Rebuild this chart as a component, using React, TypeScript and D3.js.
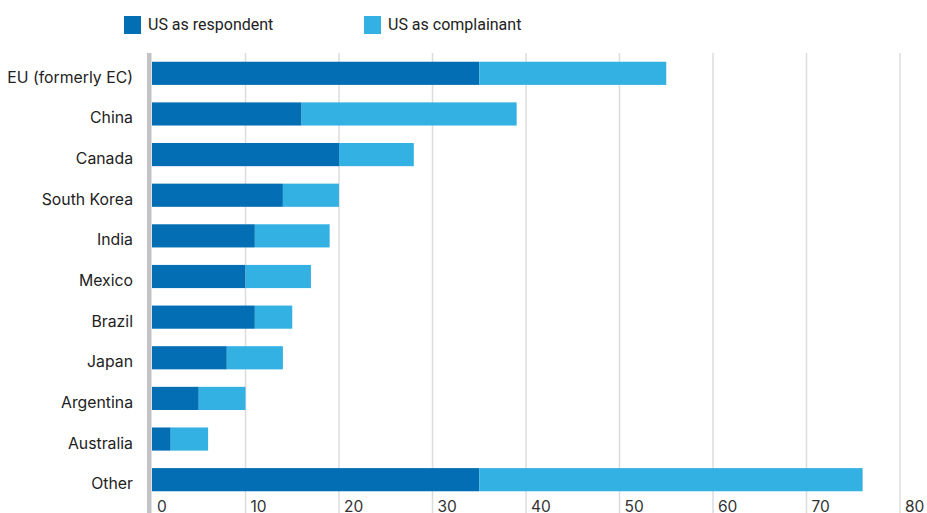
import React from "react";
import * as d3 from "d3";

const categories = ["EU (formerly EC)", "China", "Canada", "South Korea", "India", "Mexico", "Brazil", "Japan", "Argentina", "Australia", "Other"];
const respondent = [35, 16, 20, 14, 11, 10, 11, 8, 5, 2, 35];
const complainant = [20, 23, 8, 6, 8, 7, 4, 6, 5, 4, 41];
const xTicks = [0, 10, 20, 30, 40, 50, 60, 70, 80];
const seriesNames = ["US as respondent", "US as complainant"];

const W = 927;
const H = 513;
const DARK = "#036eb3";
const LIGHT = "#34b1e3";
const FONT = "Inter, 'Noto Sans', sans-serif";

export default function App() {
  const x = d3.scaleLinear().domain([0, 80]).range([152, 900]);
  const y = d3.scaleBand<string>().domain(categories).range([53, 500]).paddingInner(0.43).paddingOuter(0.215);
  const bw = y.bandwidth();

  return (
    <svg width={W} height={H} style={{ position: "absolute", left: 0, top: 0, background: "#fff" }}>
      {xTicks.filter((t) => t > 0).map((t) => (
        <line key={"g" + t} x1={x(t)} x2={x(t)} y1={53} y2={H} stroke="#dcdcdf" strokeWidth={1.5} />
      ))}
      <rect x={147} y={53} width={4.5} height={H - 53} fill="#c2c2c7" />
      {xTicks.map((t) => (
        <text key={"t" + t} x={x(t) + 5} y={H - 1} fontFamily={FONT} fontSize={15.5} fill="#333">
          {t}
        </text>
      ))}
      {categories.map((c, i) => (
        <g key={c}>
          <rect x={x(0)} y={y(c)} width={x(respondent[i]) - x(0)} height={bw} fill={DARK} />
          <rect x={x(respondent[i])} y={y(c)} width={x(respondent[i] + complainant[i]) - x(respondent[i])} height={bw} fill={LIGHT} />
          <text x={133} y={(y(c) as number) + bw / 2 + 4} dy="0.35em" textAnchor="end" fontFamily={FONT} fontSize={15.8} fill="#222">
            {c}
          </text>
        </g>
      ))}
      <rect x={124} y={16} width={17} height={18} fill={DARK} />
      <text x={148} y={30} fontFamily="Roboto, sans-serif" fontSize={16} fill="#222">{seriesNames[0]}</text>
      <rect x={364} y={16} width={17} height={18} fill={LIGHT} />
      <text x={388} y={30} fontFamily="Roboto, sans-serif" fontSize={16} fill="#222">{seriesNames[1]}</text>
    </svg>
  );
}
